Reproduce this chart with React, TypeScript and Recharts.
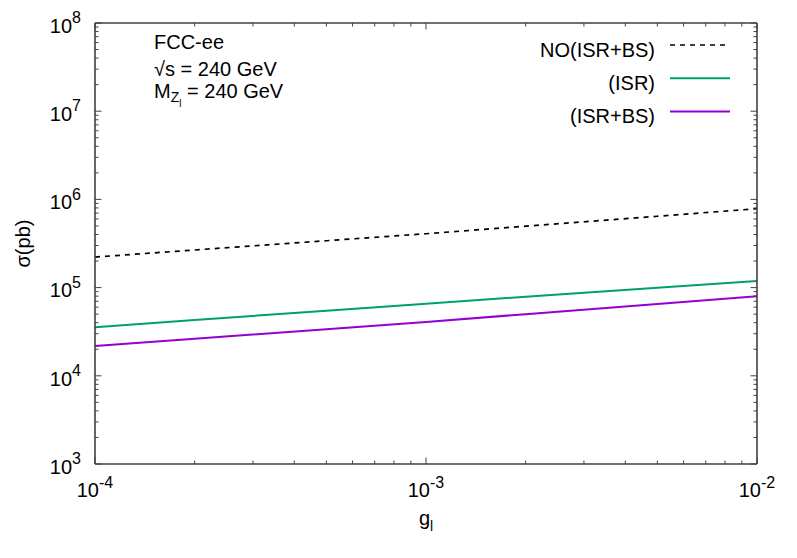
import React from 'react';
import { LineChart, Line, XAxis, YAxis, Legend } from 'recharts';

// g_l couplings and cross sections (pb)
const gValues = [1e-4, 2e-4, 5e-4, 1e-3, 2e-3, 5e-3, 1e-2];
const sigmaNoIsrBs = [2.22e5, 2.67e5, 3.4e5, 4.08e5, 4.97e5, 6.44e5, 7.84e5];
const sigmaIsr = [3.56e4, 4.28e4, 5.47e4, 6.58e4, 7.87e4, 9.96e4, 1.19e5];
const sigmaIsrBs = [2.18e4, 2.63e4, 3.38e4, 4.08e4, 5.0e4, 6.52e4, 7.98e4];

const seriesNames = ['NO(ISR+BS)', '(ISR)', '(ISR+BS)'];
const xMajorTicks = [1e-4, 1e-3, 1e-2];
const yMajorTicks = [1e3, 1e4, 1e5, 1e6, 1e7, 1e8];

const data = gValues.map((g, i) => ({
  g,
  noIsrBs: sigmaNoIsrBs[i],
  isr: sigmaIsr[i],
  isrBs: sigmaIsrBs[i],
}));

// majors plus minor ticks 2..9 inside each decade
const withMinors = (majors: number[]) => {
  const out: number[] = [];
  majors.forEach((m, i) => {
    out.push(m);
    if (i < majors.length - 1) {
      for (let k = 2; k <= 9; k++) out.push(+(m * k).toPrecision(3));
    }
  });
  return out;
};
const xTicks = withMinors(xMajorTicks);
const yTicks = withMinors(yMajorTicks);

const isMajor = (v: number) => {
  const l = Math.log10(v);
  return Math.abs(l - Math.round(l)) < 1e-6;
};

const FONT = '"Liberation Sans", Arial, sans-serif';
const AXIS = '#404040';
const MAJ = 6.5;
const MIN = 3.5;

const Pow10 = ({ x, y, v, anchor }: { x: number; y: number; v: number; anchor: 'end' | 'middle' }) => (
  <text x={x} y={y} textAnchor={anchor} fontFamily={FONT} fontSize={20} fill="#000">
    10
    <tspan dy={-9.5} fontSize={16}>{Math.round(Math.log10(v))}</tspan>
  </text>
);

const BottomTick = (props: any) => {
  const { x, y, payload } = props;
  const major = isMajor(payload.value);
  return (
    <g>
      <line x1={x} x2={x} y1={y} y2={y - (major ? MAJ : MIN)} stroke={AXIS} strokeWidth={1} />
      {major && <Pow10 x={x} y={y + 33} v={payload.value} anchor="middle" />}
    </g>
  );
};

const TopTick = (props: any) => {
  const { x, y, payload } = props;
  const major = isMajor(payload.value);
  return <line x1={x} x2={x} y1={y} y2={y + (major ? MAJ : MIN)} stroke={AXIS} strokeWidth={1} />;
};

const LeftTick = (props: any) => {
  const { x, y, payload } = props;
  const major = isMajor(payload.value);
  return (
    <g>
      <line x1={x} x2={x + (major ? MAJ : MIN)} y1={y} y2={y} stroke={AXIS} strokeWidth={1} />
      {major && <Pow10 x={x - 14} y={y + 9.7} v={payload.value} anchor="end" />}
    </g>
  );
};

const RightTick = (props: any) => {
  const { x, y, payload } = props;
  const major = isMajor(payload.value);
  return <line x1={x} x2={x - (major ? MAJ : MIN)} y1={y} y2={y} stroke={AXIS} strokeWidth={1} />;
};

const KeyBox = ({ payload }: any) => {
  const rows = [...((payload || []) as any[])].sort(
    (a, b) => seriesNames.indexOf(a.value) - seriesNames.indexOf(b.value)
  );
  return (
    <svg width={797} height={140} style={{ display: 'block' }}>
      {rows.map((entry, i) => {
        const cy = 45 + i * 33.3;
        return (
          <g key={entry.value}>
            <text x={655} y={cy + 11.7} textAnchor="end" fontFamily={FONT} fontSize={20} fill="#000">
              {entry.value}
            </text>
            <line
              x1={670}
              x2={730}
              y1={cy}
              y2={cy}
              stroke={entry.color}
              strokeWidth={entry.payload?.strokeWidth ?? 2}
              strokeDasharray={entry.payload?.strokeDasharray}
            />
          </g>
        );
      })}
    </svg>
  );
};

export default function App() {
  return (
    <div style={{ position: 'absolute', left: 0, top: 0, width: 797, height: 558, background: '#fff' }}>
      <LineChart width={797} height={558} data={data} margin={{ top: 0, right: 0, bottom: 0, left: 0 }}>
        <XAxis
          dataKey="g"
          type="number"
          scale="log"
          domain={[1e-4, 1e-2]}
          allowDataOverflow
          ticks={xTicks}
          interval={0}
          height={94}
          tickSize={0}
          tickMargin={0}
          tickLine={false}
          tick={<BottomTick />}
          axisLine={{ stroke: AXIS, strokeWidth: 1.6 }}
        />
        <XAxis
          xAxisId="top"
          orientation="top"
          dataKey="g"
          type="number"
          scale="log"
          domain={[1e-4, 1e-2]}
          allowDataOverflow
          ticks={xTicks}
          interval={0}
          height={23}
          tickSize={0}
          tickMargin={0}
          tickLine={false}
          tick={<TopTick />}
          axisLine={{ stroke: AXIS, strokeWidth: 1.6 }}
        />
        <YAxis
          type="number"
          scale="log"
          domain={[1e3, 1e8]}
          allowDataOverflow
          ticks={yTicks}
          interval={0}
          width={95}
          tickSize={0}
          tickMargin={0}
          tickLine={false}
          tick={<LeftTick />}
          axisLine={{ stroke: AXIS, strokeWidth: 1.6 }}
        />
        <YAxis
          yAxisId="right"
          orientation="right"
          type="number"
          scale="log"
          domain={[1e3, 1e8]}
          allowDataOverflow
          ticks={yTicks}
          interval={0}
          width={40}
          tickSize={0}
          tickMargin={0}
          tickLine={false}
          tick={<RightTick />}
          axisLine={{ stroke: AXIS, strokeWidth: 1.6 }}
        />
        <Legend
          layout="vertical"
          align="center"
          verticalAlign="middle"
          content={<KeyBox />}
          wrapperStyle={{ position: 'absolute', left: 0, top: 0, width: 797, height: 140 }}
        />
        <Line
          name={seriesNames[0]}
          dataKey="noIsrBs"
          type="linear"
          stroke="#000"
          strokeWidth={1.7}
          strokeDasharray="5 5"
          dot={false}
          isAnimationActive={false}
        />
        <Line
          name={seriesNames[1]}
          dataKey="isr"
          type="linear"
          stroke="#009e73"
          strokeWidth={2}
          dot={false}
          isAnimationActive={false}
        />
        <Line
          name={seriesNames[2]}
          dataKey="isrBs"
          type="linear"
          stroke="#9400d3"
          strokeWidth={2}
          dot={false}
          isAnimationActive={false}
        />
        <text x={154} y={49.3} fontFamily={FONT} fontSize={20} fill="#000">FCC-ee</text>
        <text x={154} y={76} fontFamily={FONT} fontSize={20} fill="#000">√s = 240 GeV</text>
        <text x={154} y={97.7} fontFamily={FONT} fontSize={20} fill="#000">
          M
          <tspan dy={4} fontSize={14}>Z</tspan>
          <tspan dy={5} fontSize={10}>l</tspan>
          <tspan dy={-9} fontSize={20}> = 240 GeV</tspan>
        </text>
        <text x={426} y={525} textAnchor="middle" fontFamily={FONT} fontSize={20} fill="#000">
          g<tspan dy={6} fontSize={14}>l</tspan>
        </text>
        <text
          x={30}
          y={243.5}
          transform="rotate(-90 30 243.5)"
          textAnchor="middle"
          fontFamily={FONT}
          fontSize={20}
          fill="#000"
        >
          σ(pb)
        </text>
      </LineChart>
    </div>
  );
}
